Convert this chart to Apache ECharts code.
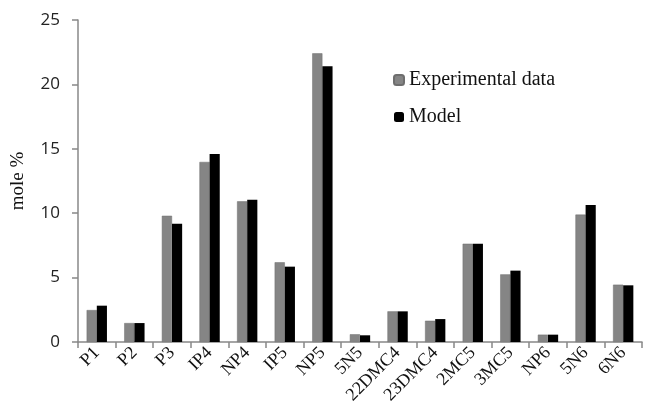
<!DOCTYPE html>
<html>
<head>
<meta charset="utf-8">
<script src="https://cdn.jsdelivr.net/npm/echarts@6/dist/echarts.min.js"></script>
<style>html,body{margin:0;padding:0;background:#fff}#c{width:648px;height:414px}</style>
</head>
<body>
<div id="c"></div>
<script>
const categories = ['P1','P2','P3','IP4','NP4','IP5','NP5','5N5','22DMC4','23DMC4','2MC5','3MC5','NP6','5N6','6N6'];
const experimental = [2.48,1.47,9.8,13.98,10.92,6.19,22.41,0.6,2.38,1.65,7.63,5.25,0.57,9.89,4.45];
const model = [2.82,1.47,9.18,14.6,11.05,5.85,21.4,0.52,2.38,1.78,7.63,5.54,0.57,10.64,4.40];
const yTicks = [0,5,10,15,20,25];

const chart = echarts.init(document.getElementById('c'), null, {renderer:'canvas'});
const serif = '"Liberation Serif", "Times New Roman", serif';
chart.setOption({
  animation: false,
  backgroundColor: '#fff',
  grid: {left: 78, right: 6, top: 20, bottom: 72, containLabel: false},
  legend: {
    orient: 'vertical', left: 388, top: 64,
    itemWidth: 10, itemHeight: 10, itemGap: 15,
    textStyle: {fontFamily: serif, fontSize: 20, color: '#111', lineHeight: 22},
    data: ['Experimental data','Model']
  },
  xAxis: {
    type: 'category', data: categories,
    axisLine: {lineStyle: {color: '#888', width: 1.5}},
    axisTick: {show: true, length: 6, lineStyle: {color: '#888', width: 1.5}},
    axisLabel: {rotate: 45, fontFamily: serif, fontSize: 18, color: '#111', margin: 8, interval: 0}
  },
  yAxis: {
    type: 'value', min: yTicks[0], max: yTicks[yTicks.length-1], interval: 5,
    name: 'mole %', nameLocation: 'middle', nameGap: 50,
    nameTextStyle: {fontFamily: serif, fontSize: 19, color: '#111'},
    axisLine: {show: true, lineStyle: {color: '#888', width: 1.5}},
    axisTick: {show: true, length: 6, lineStyle: {color: '#888', width: 1.5}},
    splitLine: {show: false},
    axisLabel: {fontFamily: '"Open Sans", sans-serif', fontSize: 17, color: '#222', margin: 18}
  },
  series: [
    {name: 'Experimental data', type: 'bar', data: experimental, barGap: '0%', barCategoryGap: '46%',
     itemStyle: {color: '#858585', borderColor: '#6e6e6e', borderWidth: 0.5}},
    {name: 'Model', type: 'bar', data: model, barGap: '0%', barCategoryGap: '46%',
     itemStyle: {color: '#000'}}
  ]
});
</script>
</body>
</html>
